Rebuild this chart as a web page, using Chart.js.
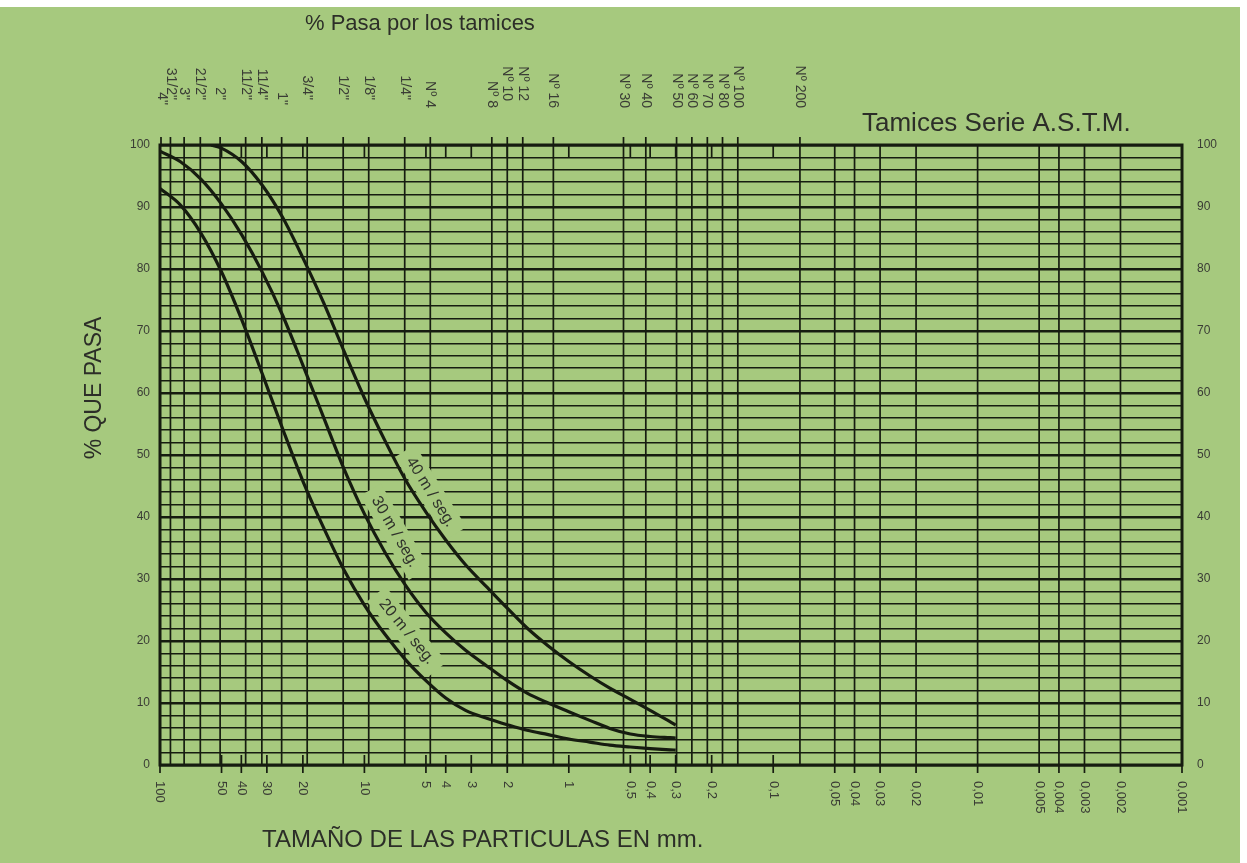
<!DOCTYPE html>
<html>
<head>
<meta charset="utf-8">
<script src="https://cdn.jsdelivr.net/npm/chart.js@4.4.1/dist/chart.umd.min.js"></script>
<style>
  html, body { margin: 0; padding: 0; background: #ffffff; }
  #panel { position: absolute; left: 0; top: 7px; width: 1240px; height: 856px; background: #a6c97e; }
  #wrap { position: absolute; left: 0; top: 0; width: 1247px; height: 863px; }
</style>
</head>
<body>
<div id="panel"></div>
<div id="wrap"><canvas id="myChart" width="1247" height="863"></canvas></div>
<script>
// grading curves, particle size (mm) vs % passing
const sizes20 = [100, 79.4, 63.1, 50.1, 39.8, 31.6, 25.1, 20, 15.8, 12.6, 10, 7.9, 6.3, 5, 4, 3.2, 2.5, 2, 1.6, 1.26, 1, 0.79, 0.63, 0.5, 0.4, 0.32, 0.3];
const pass20 = [93, 90.3, 85.8, 79.6, 71.8, 63.1, 54.2, 45.8, 38.2, 31.5, 25.8, 21, 17, 13.6, 10.8, 8.8, 7.5, 6.5, 5.6, 4.9, 4.2, 3.7, 3.2, 2.9, 2.65, 2.45, 2.4];

const sizes30 = [100, 79.4, 63.1, 50.1, 39.8, 31.6, 25.1, 20, 15.8, 12.6, 10, 7.9, 6.3, 5, 4, 3.2, 2.5, 2, 1.6, 1.26, 1, 0.79, 0.63, 0.5, 0.4, 0.32, 0.3];
const pass30 = [99, 97.3, 94.5, 90.5, 85.5, 79.5, 72.5, 64.5, 56, 47.8, 40.5, 34.2, 29, 24.6, 21.3, 18.5, 15.9, 13.6, 11.6, 10, 8.6, 7.2, 5.9, 5, 4.6, 4.4, 4.35];

const sizes40 = [56.2, 50.1, 39.8, 31.6, 25.1, 20, 15.8, 12.6, 10, 7.9, 6.3, 5, 4, 3.2, 2.5, 2, 1.6, 1.26, 1, 0.79, 0.63, 0.5, 0.4, 0.32, 0.3];
const pass40 = [100, 99.5, 97.3, 93.5, 88.3, 81.8, 74.5, 66.8, 59.2, 52.2, 46, 40.8, 36.3, 32.3, 28.6, 25.3, 22.1, 19.2, 16.7, 14.4, 12.4, 10.6, 8.8, 7, 6.45];

const curveNames = ["20 m / seg.", "30 m / seg.", "40 m / seg."];

// ASTM sieves (top axis)
const sieveSizes = [101.6, 88.9, 76.2, 63.5, 50.8, 38.1, 31.75, 25.4, 19.05, 12.7, 9.525, 6.35, 4.76, 2.38, 2.0, 1.68, 1.19, 0.54, 0.42, 0.297, 0.25, 0.21, 0.177, 0.149, 0.074];
const sieveLabels = ['4"', '31/2"', '3"', '21/2"', '2"', '11/2"', '11/4"', '1"', '3/4"', '1/2"', '1/8"', '1/4"', "Nº 4", "Nº 8", "Nº 10", "Nº 12", "Nº 16", "Nº 30", "Nº 40", "Nº 50", "Nº 60", "Nº 70", "Nº 80", "Nº 100", "Nº 200"];

// mm ticks (bottom axis)
const mmTicks = [100, 50, 40, 30, 20, 10, 5, 4, 3, 2, 1, 0.5, 0.4, 0.3, 0.2, 0.1, 0.05, 0.04, 0.03, 0.02, 0.01, 0.005, 0.004, 0.003, 0.002, 0.001];
const mmLabels = ["100", "50", "40", "30", "20", "10", "5", "4", "3", "2", "1", "0,5", "0,4", "0,3", "0,2", "0,1", "0,05", "0,04", "0,03", "0,02", "0,01", "0,005", "0,004", "0,003", "0,002", "0,001"];

// where the curve names sit (mm, %) and their slant
const tagSizes = [6.2, 7.1, 4.75];
const tagPass = [21.5, 37.6, 44];
const tagAngles = [51, 60, 58];

const ink = "#161c10";
const labelInk = "#3a3c35";
const paper = "#a6c97e";
const font = '"Liberation Sans", Arial, Helvetica, sans-serif';

function vline(ctx, px, y1, y2) {
  ctx.beginPath();
  ctx.moveTo(px, y1);
  ctx.lineTo(px, y2);
  ctx.stroke();
}

function rotText(ctx, text, px, py, angle, align) {
  ctx.save();
  ctx.translate(px, py);
  ctx.rotate(angle);
  ctx.textAlign = align;
  ctx.textBaseline = "middle";
  ctx.fillText(text, 0, 0);
  ctx.restore();
}

const paperPlugin = {
  id: "paper",
  beforeDatasetsDraw(chart) {
    const { ctx, chartArea: a } = chart;
    const x = chart.scales.x;
    const y = chart.scales.y;
    ctx.save();
    ctx.strokeStyle = ink;
    ctx.lineWidth = 1.7;
    sieveSizes.forEach((v) => {
      const px = x.getPixelForValue(v);
      if (px > a.left + 2) vline(ctx, px, a.top - 8, a.bottom);
      else vline(ctx, a.left + 1, a.top - 8, a.top);
    });
    mmTicks.forEach((v) => {
      const px = x.getPixelForValue(v);
      if (v < 0.07) {
        vline(ctx, px, a.top, a.bottom + 8);
      } else {
        vline(ctx, px, a.top, a.top + 12);
        vline(ctx, px, a.bottom - 10, a.bottom + 8);
      }
    });
    // plates behind the curve names
    ctx.font = "16px " + font;
    curveNames.forEach((name, i) => {
      const w = ctx.measureText(name).width;
      ctx.save();
      ctx.translate(x.getPixelForValue(tagSizes[i]), y.getPixelForValue(tagPass[i]));
      ctx.rotate((tagAngles[i] * Math.PI) / 180);
      ctx.fillStyle = paper;
      ctx.fillRect(-w / 2 - 9, -12, w + 18, 24);
      ctx.restore();
    });
    ctx.restore();
  },
  afterDatasetsDraw(chart) {
    const { ctx, chartArea: a } = chart;
    const x = chart.scales.x;
    const y = chart.scales.y;
    ctx.save();
    ctx.strokeStyle = ink;
    ctx.lineWidth = 3;
    ctx.strokeRect(a.left, a.top, a.right - a.left, a.bottom - a.top);

    ctx.fillStyle = "#2f312b";
    ctx.font = "16px " + font;
    curveNames.forEach((name, i) => {
      rotText(ctx, name, x.getPixelForValue(tagSizes[i]), y.getPixelForValue(tagPass[i]), (tagAngles[i] * Math.PI) / 180, "center");
    });

    // sieve labels on top
    ctx.fillStyle = labelInk;
    ctx.font = "14px " + font;
    sieveSizes.forEach((v, i) => {
      const px = Math.max(x.getPixelForValue(v), a.left + 2);
      const lab = sieveLabels[i];
      let end = lab.startsWith("N") ? a.top - 37 : a.top - 45;
      if (lab === "Nº 10" || lab === "Nº 12") end = a.top - 44;
      if (lab === '4"' || lab === '1"') end = a.top - 40;
      rotText(ctx, lab, px, end, Math.PI / 2, "right");
    });

    // mm labels at the bottom
    ctx.font = "13px " + font;
    mmTicks.forEach((v, i) => {
      rotText(ctx, mmLabels[i], x.getPixelForValue(v), a.bottom + 16, Math.PI / 2, "left");
    });

    // titles
    ctx.fillStyle = "#2c2e28";
    ctx.textBaseline = "middle";
    ctx.textAlign = "left";
    ctx.font = "22px " + font;
    ctx.fillText("% Pasa por los tamices", 305, 24);
    ctx.font = "26px " + font;
    ctx.fillText("Tamices Serie A.S.T.M.", 862, 124);
    ctx.font = "24px " + font;
    ctx.fillText("TAMAÑO DE LAS PARTICULAS EN mm.", 262, 840);
    ctx.font = "23px " + font;
    rotText(ctx, "% QUE PASA", 95, 388, -Math.PI / 2, "center");
    ctx.restore();
  },
};

function series(sizes, pass) {
  return sizes.map((s, i) => ({ x: s, y: pass[i] }));
}

const ctx = document.getElementById("myChart");

const myChart = new Chart(ctx, {
  type: "line",
  data: {
    datasets: [
      { label: curveNames[0], data: series(sizes20, pass20) },
      { label: curveNames[1], data: series(sizes30, pass30) },
      { label: curveNames[2], data: series(sizes40, pass40) },
    ],
  },
  options: {
    responsive: false,
    devicePixelRatio: 1,
    animation: false,
    layout: { padding: { left: 120, right: 25, top: 145, bottom: 98 } },
    elements: {
      line: { borderColor: ink, borderWidth: 3.2, cubicInterpolationMode: "monotone", fill: false },
      point: { radius: 0 },
    },
    scales: {
      x: { type: "logarithmic", min: 0.001, max: 100, reverse: true, display: false },
      y: {
        type: "linear",
        position: "left",
        min: 0,
        max: 100,
        afterFit: (s) => { s.width = 40; },
        ticks: {
          stepSize: 2,
          autoSkip: false,
          padding: 10,
          color: labelInk,
          font: { size: 12, family: font },
          callback: (v) => (v % 10 === 0 ? String(v) : ""),
        },
        grid: {
          color: ink,
          drawTicks: false,
          lineWidth: (c) => (c.tick && c.tick.value % 10 === 0 ? 2.6 : 1.5),
        },
        border: { display: false },
      },
      y2: {
        type: "linear",
        position: "right",
        min: 0,
        max: 100,
        afterFit: (s) => { s.width = 40; },
        ticks: {
          stepSize: 2,
          autoSkip: false,
          padding: 15,
          color: labelInk,
          font: { size: 12, family: font },
          callback: (v) => (v % 10 === 0 ? String(v) : ""),
        },
        grid: { display: false, drawTicks: false },
        border: { display: false },
      },
    },
    plugins: {
      legend: { display: false },
      tooltip: { enabled: false },
    },
  },
  plugins: [paperPlugin],
});
</script>
</body>
</html>
